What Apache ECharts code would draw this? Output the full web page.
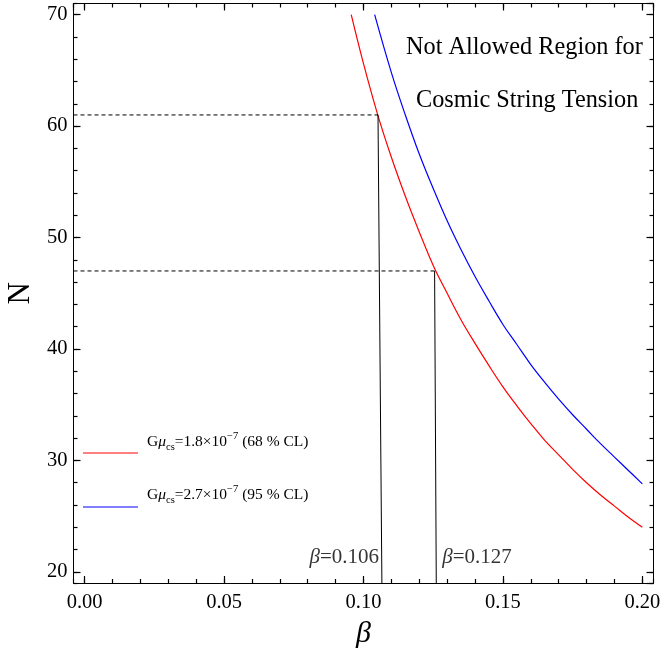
<!DOCTYPE html>
<html>
<head>
<meta charset="utf-8">
<script src="https://cdn.jsdelivr.net/npm/echarts@6/dist/echarts.min.js"></script>
<style>
html, body { margin: 0; padding: 0; background: #fff; }
#main { width: 661px; height: 653px; }
</style>
</head>
<body>
<div id="main"></div>
<script>
// curves
var redBeta = [0.0956, 0.1, 0.105, 0.11, 0.115, 0.12, 0.125, 0.13, 0.135, 0.14, 0.145, 0.15, 0.155, 0.16, 0.165, 0.17, 0.175, 0.18, 0.185, 0.19, 0.195, 0.2];
var redN = [70, 65.6, 61.1, 57.2, 53.7, 50.5, 47.5, 45.0, 42.6, 40.5, 38.5, 36.6, 34.9, 33.3, 31.8, 30.5, 29.2, 28.0, 26.9, 25.9, 24.9, 24.0];
var blueBeta = [0.104, 0.11, 0.115, 0.12, 0.125, 0.13, 0.135, 0.14, 0.145, 0.15, 0.155, 0.16, 0.165, 0.17, 0.175, 0.18, 0.185, 0.19, 0.195, 0.2];
var blueN = [70, 64.8, 61.0, 57.5, 54.4, 51.5, 48.9, 46.5, 44.3, 42.2, 40.4, 38.6, 37.0, 35.5, 34.1, 32.8, 31.5, 30.3, 29.1, 27.9];

// the two cuts (dashed level, drop line, label)
var cutN = [61, 47];
var cutTopBeta = [0.1052, 0.1255];
var cutBottomBeta = [0.1066, 0.1261];
var cutLabels = ['0.106', '0.127'];
var cutLabelAt = [[0.1063, 21.3], [0.1275, 21.3]];

var xMin = -0.004, xMax = 0.204, yMin = 19, yMax = 71;
var FONT = 'Liberation Serif';

var dom = document.getElementById('main');
var myChart = echarts.init(dom);

function zip(a, b) {
	var out = [];
	for (var i = 0; i < a.length; i++) out.push([a[i], b[i]]);
	return out;
}

// tick-only axes: nice intervals come out as 0.05 / 0.01 and 10 / 2,
// the extra ticks at the padded ends fall on the frame itself
function axisX(pos, split, len, withLabel) {
	return {
		type: 'value', min: xMin, max: xMax, position: pos, splitNumber: split,
		axisLine: { show: true, onZero: false, lineStyle: { color: '#000', width: 1 } },
		axisTick: { show: true, inside: true, length: len, lineStyle: { color: '#000', width: 1.2 } },
		axisLabel: withLabel ? {
			show: true, margin: 9, color: '#000', fontFamily: FONT, fontSize: 20.5,
			showMinLabel: false, showMaxLabel: false,
			formatter: function (v) { return v.toFixed(2); }
		} : { show: false },
		splitLine: { show: false }
	};
}
function axisY(pos, split, len, withLabel) {
	return {
		type: 'value', min: yMin, max: yMax, position: pos, splitNumber: split,
		axisLine: { show: true, onZero: false, lineStyle: { color: '#000', width: 1 } },
		axisTick: { show: true, inside: true, length: len, lineStyle: { color: '#000', width: 1.2 } },
		axisLabel: withLabel ? {
			show: true, margin: 6, color: '#000', fontFamily: FONT, fontSize: 20.5,
			showMinLabel: false, showMaxLabel: false
		} : { show: false },
		splitLine: { show: false }
	};
}

var xAxes = [axisX('bottom', 4, 7, true), axisX('bottom', 20, 4, false), axisX('top', 4, 7, false), axisX('top', 20, 4, false)];
xAxes[0].name = 'β';
xAxes[0].nameLocation = 'middle';
xAxes[0].nameGap = 36;
xAxes[0].nameTextStyle = { fontFamily: FONT, fontStyle: 'italic', fontSize: 30, color: '#000' };

var yAxes = [axisY('left', 5, 7, true), axisY('left', 26, 4, false), axisY('right', 5, 7, false), axisY('right', 26, 4, false)];
yAxes[0].name = 'N';
yAxes[0].nameLocation = 'middle';
yAxes[0].nameGap = 33;
yAxes[0].nameTextStyle = { fontFamily: FONT, fontSize: 31, color: '#000' };

var series = [];
series.push({
	name: 'red', type: 'line', smooth: 0.4, showSymbol: false, silent: true,
	lineStyle: { color: '#ff0000', width: 1.2 },
	data: zip(redBeta, redN)
});
series.push({
	name: 'blue', type: 'line', smooth: 0.4, showSymbol: false, silent: true,
	lineStyle: { color: '#0000ff', width: 1.2 },
	data: zip(blueBeta, blueN)
});
for (var i = 0; i < cutN.length; i++) {
	series.push({
		type: 'line', showSymbol: false, silent: true,
		lineStyle: { color: '#000', width: 1, type: [4, 3] },
		data: [[xMin, cutN[i]], [cutTopBeta[i], cutN[i]]]
	});
	series.push({
		type: 'line', showSymbol: false, silent: true,
		lineStyle: { color: '#000', width: 1 },
		data: [[cutTopBeta[i], cutN[i]], [cutBottomBeta[i], yMin]]
	});
	series.push({
		type: 'scatter', symbolSize: 0, silent: true,
		data: [cutLabelAt[i]],
		label: {
			show: true, position: i === 0 ? 'left' : 'right', distance: 2,
			formatter: '{b|β}=' + cutLabels[i],
			color: '#000', fontFamily: FONT, fontSize: 21,
			rich: { b: { fontFamily: FONT, fontStyle: 'italic', fontSize: 21, color: '#000' } }
		}
	});
}

var legendRich = {
	m: { fontFamily: FONT, fontSize: 15.5, color: '#000' },
	i: { fontFamily: FONT, fontSize: 15.5, fontStyle: 'italic', color: '#000' },
	sub: { fontFamily: FONT, fontSize: 10.5, color: '#000', verticalAlign: 'bottom' },
	sup: { fontFamily: FONT, fontSize: 10.5, color: '#000', verticalAlign: 'top' }
};

var option = {
	animation: false,
	backgroundColor: '#fff',
	grid: { left: 73.5, right: 7.5, top: 3.5, bottom: 70, containLabel: false, outerBoundsMode: 'none' },
	xAxis: xAxes,
	yAxis: yAxes,
	series: series,
	graphic: [
		{ type: 'line', shape: { x1: 83, y1: 453, x2: 138, y2: 453 }, style: { stroke: '#ff0000', lineWidth: 1 }, silent: true },
		{ type: 'line', shape: { x1: 83, y1: 507, x2: 138, y2: 507 }, style: { stroke: '#0000ff', lineWidth: 1 }, silent: true },
		{
			type: 'text', left: 147, top: 431, silent: true,
			style: {
				text: '{m|G}{i|μ}{sub|cs}{m|=1.8×10}{sup|−7}{m| (68 % CL)}',
				rich: legendRich, lineHeight: 22
			}
		},
		{
			type: 'text', left: 147, top: 484, silent: true,
			style: {
				text: '{m|G}{i|μ}{sub|cs}{m|=2.7×10}{sup|−7}{m| (95 % CL)}',
				rich: legendRich, lineHeight: 22
			}
		},
		{
			type: 'text', left: 406, top: 36, silent: true,
			style: { text: 'Not Allowed Region for', fontFamily: FONT, fontSize: 24.3, fill: '#000' }
		},
		{
			type: 'text', left: 416, top: 89, silent: true,
			style: { text: 'Cosmic String Tension', fontFamily: FONT, fontSize: 24.3, fill: '#000' }
		}
	]
};

myChart.setOption(option);
</script>
</body>
</html>
